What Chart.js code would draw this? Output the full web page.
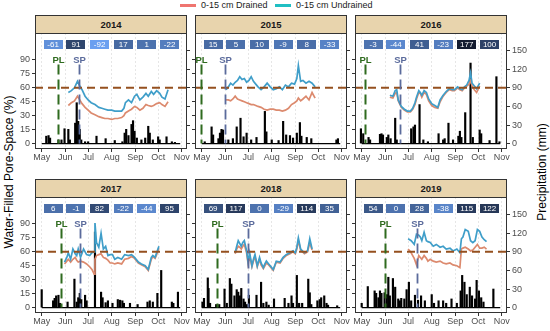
<!DOCTYPE html>
<html>
<head>
<meta charset="utf-8">
<script src="https://cdn.jsdelivr.net/npm/chart.js@4.4.1/dist/chart.umd.min.js"></script>
<style>
  body { margin: 0; width: 550px; height: 331px; position: relative; overflow: hidden; background: #fff;
         font-family: "Liberation Sans", Arial, sans-serif; }
  canvas { position: absolute; }
  .strip { position: absolute; box-sizing: border-box; height: 19px; width: 152px; background: #e8d4ad;
           border: 1px solid #333; text-align: center; font-weight: bold; font-size: 9.5px; line-height: 17px; color: #1a1a1a; }
  .key { position: absolute; top: 4px; width: 16px; height: 2.5px; }
  .ltxt { position: absolute; top: 0; font-size: 9px; line-height: 11px; color: #1a1a1a; }
  .ytitle { position: absolute; font-size: 12px; color: #000; white-space: nowrap;
            transform: translate(-50%, -50%) rotate(-90deg); }
</style>
</head>
<body>
<div class="key" style="left:180px;background:#ef7570"></div>
<div class="ltxt" style="left:201px">0-15 cm Drained</div>
<div class="key" style="left:275px;background:#20bfc3"></div>
<div class="ltxt" style="left:296px">0-15 cm Undrained</div>
<div class="ytitle" style="left:9px;top:172px">Water-Filled Pore-Space (%)</div>
<div class="ytitle" style="left:542px;top:172px">Precipitation (mm)</div>

<script>
// ---- data ----
const years = ['2014', '2015', '2016', '2017', '2018', '2019'];
const monthDays = [121, 152, 182, 213, 244, 274, 305];
const monthLabels = ['May', 'Jun', 'Jul', 'Aug', 'Sep', 'Oct', 'Nov'];
const wfpsTicks = [0, 15, 30, 45, 60, 75, 90];
const rainTicks = [0, 30, 60, 90, 120, 150];
const threshold = 60;
const seasonStart = 121, seasonEnd = 303;

// monthly difference boxes (placed mid-month)
const boxDays = [136, 166, 197, 228, 259, 289];
const diff2014 = [-61, 91, -92, 17, 1, -22];
const diff2015 = [15, 5, 10, -9, 8, -33];
const diff2016 = [-3, -44, 41, -23, 177, 100];
const diff2017 = [6, -1, 82, -22, -44, 95];
const diff2018 = [69, 117, 0, -29, 114, 35];
const diff2019 = [54, 0, 28, -38, 115, 122];

// planting / side-dress dates (day of year)
const plDays = [142, 120, 125, 146, 141, 151];
const spDays = [170, 152, 171, 171, 182, 193];

const wfpsDays2014 = [156,160,164,168,171,174,178,182,186,191,196,200,204,208,213,217,221,226,229,231,235,239,243,246,250,254,258,261,265,268,272,276,279,283,287];
const undrained2014 = [55,57,60,67,62,58,51,47,44,42,39,38,37,36,36,35,35,35,38,44,47,44,51,53,47,50,54,51,56,53,57,54,50,48,58];
const drained2014 = [41,44,46,51,47,43,39,36,33,31,29,28,27,27,26,27,27,28,30,33,35,37,40,39,36,38,42,41,40,41,43,44,42,40,45];

const wfpsDays2015 = [153,156,159,162,165,168,171,174,177,180,183,186,189,192,195,199,203,207,211,215,219,223,227,231,235,239,243,246,248,251,254,258,262,266,270];
const undrained2015 = [58,61,65,63,66,68,72,69,70,66,68,72,67,64,61,58,61,65,61,58,59,61,58,63,61,65,64,70,84,67,68,65,67,65,61];
const drained2015 = [47,47,46,48,51,48,47,46,45,44,43,42,42,41,40,39,37,36,37,37,36,36,35,36,38,42,44,46,49,46,48,51,47,55,49];

const wfpsDays2016 = [158,162,165,167,169,173,177,181,185,188,191,193,196,198,200,203,206,209,213,217,221,224,228,232,236,240,243,247,250,253,256,259,262,264,266,269,272,276];
const undrained2016 = [52,51,57,58,47,40,37,35,35,38,44,50,57,55,52,57,55,48,43,41,39,47,52,56,59,58,58,61,59,58,61,63,68,76,65,62,59,65];
const drained2016 = [50,49,54,55,46,39,36,34,34,37,42,48,55,54,50,55,53,46,41,39,38,45,51,55,58,57,57,60,58,57,60,62,64,68,62,58,55,62];

const wfpsDays2017 = [151,154,156,159,162,165,167,169,172,176,180,184,187,190,191,193,196,199,202,205,208,211,214,217,221,226,230,235,239,243,248,252,257,261,265,267,270,272,275];
const undrained2017 = [49,54,59,52,63,58,56,63,54,63,57,56,59,60,91,70,65,80,63,66,56,57,57,52,54,52,57,56,57,54,49,47,45,41,54,56,54,59,66];
const drained2017 = [47,50,52,49,52,54,51,49,50,49,47,44,41,36,52,56,57,58,54,53,51,48,48,47,48,47,52,53,55,53,48,46,44,40,52,55,53,57,64];

const wfpsDays2018 = [165,167,169,171,173,175,177,180,182,184,187,189,191,194,197,199,202,204,206,209,211,215,219,224,228,232,237,241,244,246,248,251,256,260,263,266];
const undrained2018 = [59,66,72,69,66,70,72,61,49,59,45,52,57,45,54,48,43,47,50,47,45,41,50,49,54,57,59,61,59,65,75,63,59,61,74,63];
const drained2018 = [58,63,66,65,63,66,68,59,47,56,44,50,55,44,52,46,42,45,48,46,44,40,49,48,53,56,58,60,58,63,72,62,58,60,70,62];

const wfpsDays2019 = [182,184,186,188,190,193,196,198,200,203,206,208,211,215,219,224,228,232,237,241,246,250,252,254,257,261,264,267,270,273,276,279,282,285];
const undrained2019 = [74,73,72,70,68,79,78,76,72,81,72,71,70,66,68,65,66,63,64,61,63,59,74,76,84,82,72,70,72,84,82,76,73,71];
const drained2019 = [63,61,59,56,53,46,56,54,52,56,53,50,52,50,49,50,48,47,48,46,45,43,63,64,65,63,61,62,65,68,64,64,65,63];

const rainDays2014 = [127,130,132,143,147,151,156,158,165,167,169,171,173,178,182,193,205,217,227,230,232,235,239,241,243,246,252,257,261,263,267,274,276,285,292,296];
const rainMm2014 = [12,13,9,6,6,24,23,6,33,66,36,23,6,3,3,12,8,5,3,17,23,13,31,37,20,9,6,9,28,17,6,11,6,11,3,2];

const rainDays2015 = [125,134,136,143,145,147,149,156,162,167,172,176,180,186,193,204,206,213,222,228,232,237,241,246,250,252,259,265,298,300];
const rainMm2015 = [3,27,14,8,17,23,22,6,8,27,41,11,17,6,10,52,19,6,5,36,14,13,9,17,34,12,10,8,6,8];

const rainDays2016 = [120,123,130,132,145,147,149,154,156,159,165,167,186,189,191,197,202,208,222,228,230,235,241,248,250,252,257,264,267,276,278,289,298,302];
const rainMm2016 = [24,16,10,6,15,16,14,10,14,8,41,6,24,27,30,63,6,3,16,6,8,33,6,12,20,10,50,130,10,22,16,5,108,3];

const rainDays2017 = [121,136,138,140,143,145,155,164,167,169,171,173,178,180,191,199,201,205,208,214,221,224,227,229,237,247,260,263,267,273,278,292,294,300];
const rainMm2017 = [29,11,15,19,20,7,9,46,9,16,23,13,20,11,122,25,16,8,11,7,13,12,11,7,7,5,9,11,9,23,60,9,7,25];

const rainDays2018 = [122,124,129,130,132,140,144,151,154,158,160,164,167,169,171,173,176,178,180,183,193,199,202,206,209,216,230,235,239,241,246,249,253,261,263,265,273,276,278,282,285,287,299];
const rainMm2018 = [9,15,48,31,7,5,5,30,7,47,38,19,29,25,19,31,14,9,5,20,20,41,7,9,4,14,15,7,19,7,52,7,7,46,24,5,11,13,16,19,7,4,3];

const rainDays2019 = [121,129,138,140,143,145,147,151,154,156,158,162,165,169,171,173,177,180,183,186,191,195,199,204,213,216,222,228,232,239,246,251,253,256,259,263,266,270,272,275,278,281,294];
const rainMm2019 = [7,34,27,23,16,27,23,24,21,49,19,47,33,14,11,15,14,29,41,11,20,12,19,11,21,7,11,11,7,14,7,27,52,41,21,33,19,14,44,27,16,9,30];

const diffs = [diff2014, diff2015, diff2016, diff2017, diff2018, diff2019];
const wfpsDays = [wfpsDays2014, wfpsDays2015, wfpsDays2016, wfpsDays2017, wfpsDays2018, wfpsDays2019];
const undrained = [undrained2014, undrained2015, undrained2016, undrained2017, undrained2018, undrained2019];
const drained = [drained2014, drained2015, drained2016, drained2017, drained2018, drained2019];
const rainDays = [rainDays2014, rainDays2015, rainDays2016, rainDays2017, rainDays2018, rainDays2019];
const rainMm = [rainMm2014, rainMm2015, rainMm2016, rainMm2017, rainMm2018, rainMm2019];

// ---- layout / style ----
const FONT = '"Liberation Sans", Arial, sans-serif';
const undrainedColor = '#3f9ec9';
const drainedColor = '#dc8a6e';
const xMin = 112.2, xMax = 311.9;
const yMin = -5.8, yMax = 119;
const rainFactor = 1.5;

const cols = [
  { plotL: 35, plotR: 187, canL: 0, canR: 195 },
  { plotL: 195, plotR: 347, canL: 188, canR: 355 },
  { plotL: 355, plotR: 507, canL: 348, canR: 550 }
];
const rows = [
  { stripT: 15, plotT: 33, plotB: 149, bottomH: 16 },
  { stripT: 179, plotT: 197, plotB: 313, bottomH: 18 }
];

const allDiffs = diffs.flat();
const dMin = Math.min(...allDiffs), dMax = Math.max(...allDiffs);
const lowColor = [106, 159, 240], highColor = [20, 28, 48];
function boxColor(v) {
  const t = (v - dMin) / (dMax - dMin);
  const c = lowColor.map((l, k) => Math.round(l + (highColor[k] - l) * t));
  return 'rgb(' + c.join(',') + ')';
}

function zip(xs, ys) {
  return xs.map((x, k) => ({ x: x, y: ys[k] }));
}

function noPad(s) {
  s.paddingLeft = 0; s.paddingRight = 0; s.paddingTop = 0; s.paddingBottom = 0;
}

const panelDecor = {
  id: 'panelDecor',
  afterDatasetsDraw(chart, args, opts) {
    const { ctx, chartArea: a } = chart;
    const x = chart.scales.x, y = chart.scales.y;
    ctx.save();
    ctx.beginPath();
    ctx.rect(a.left, a.top, a.right - a.left, a.bottom - a.top);
    ctx.clip();

    // 60 % threshold
    const y60 = y.getPixelForValue(threshold);
    ctx.setLineDash([8, 5]);
    ctx.strokeStyle = '#95501f';
    ctx.lineWidth = 2;
    ctx.beginPath();
    ctx.moveTo(a.left, y60);
    ctx.lineTo(a.right, y60);
    ctx.stroke();

    // PL and SP markers
    [[opts.pl, 'PL', '#2f6b1f', 2], [opts.sp, 'SP', '#5b6b9c', 1.8]].forEach(m => {
      const px = Math.round(x.getPixelForValue(m[0])) + 0.5;
      ctx.setLineDash([10, 5]);
      ctx.strokeStyle = m[2];
      ctx.lineWidth = m[3];
      ctx.beginPath();
      ctx.moveTo(px, y.getPixelForValue(85));
      ctx.lineTo(px, y.getPixelForValue(0));
      ctx.stroke();
      ctx.setLineDash([]);
      ctx.fillStyle = m[2];
      ctx.font = 'bold 9.5px ' + FONT;
      ctx.textAlign = 'center';
      ctx.textBaseline = 'middle';
      ctx.fillText(m[1], px, y.getPixelForValue(89.5));
    });

    // monthly difference boxes
    ctx.font = '8px ' + FONT;
    ctx.textAlign = 'center';
    ctx.textBaseline = 'middle';
    opts.diffs.forEach((v, k) => {
      const cx = x.getPixelForValue(boxDays[k]);
      const cy = y.getPixelForValue(106.5);
      ctx.fillStyle = boxColor(v);
      ctx.fillRect(Math.round(cx - 9.5), Math.round(cy - 4.5), 19, 9);
      ctx.fillStyle = '#fff';
      ctx.fillText(String(v), cx, cy + 0.5);
    });
    ctx.restore();

    // panel border
    ctx.save();
    ctx.strokeStyle = '#333';
    ctx.lineWidth = 1;
    ctx.strokeRect(a.left + 0.5, a.top + 0.5, a.right - a.left - 1, a.bottom - a.top - 1);
    ctx.restore();
  }
};

years.forEach((year, i) => {
  const col = cols[i % 3];
  const row = rows[Math.floor(i / 3)];
  const w = col.canR - col.canL;
  const h = row.plotB - row.plotT + row.bottomH;

  const canvas = document.createElement('canvas');
  canvas.width = w;
  canvas.height = h;
  canvas.style.left = col.canL + 'px';
  canvas.style.top = row.plotT + 'px';
  canvas.style.width = w + 'px';
  canvas.style.height = h + 'px';
  document.body.appendChild(canvas);

  const strip = document.createElement('div');
  strip.className = 'strip';
  strip.style.left = col.plotL + 'px';
  strip.style.top = row.stripT + 'px';
  strip.textContent = year;
  document.body.appendChild(strip);

  const tickGrid = { display: true, drawOnChartArea: false, drawTicks: true, tickLength: 3, tickColor: '#333', tickWidth: 1 };

  new Chart(canvas, {
    type: 'bar',
    data: {
      datasets: [
        { type: 'line', label: '0-15 cm Undrained', data: zip(wfpsDays[i], undrained[i]), borderColor: undrainedColor,
          borderWidth: 1.7, pointRadius: 0, yAxisID: 'y', order: 0 },
        { type: 'line', label: '0-15 cm Drained', data: zip(wfpsDays[i], drained[i]), borderColor: drainedColor,
          borderWidth: 1.7, pointRadius: 0, yAxisID: 'y', order: 1 },
        { type: 'line', label: 'base', data: [{ x: seasonStart, y: 0 }, { x: seasonEnd, y: 0 }], borderColor: '#000',
          borderWidth: 1.2, pointRadius: 0, yAxisID: 'y2', order: 2 },
        { type: 'bar', label: 'Precipitation', data: zip(rainDays[i], rainMm[i]), backgroundColor: '#000',
          barThickness: 1.5, yAxisID: 'y2', order: 3 }
      ]
    },
    options: {
      responsive: false,
      animation: false,
      devicePixelRatio: 1,
      layout: { padding: 0 },
      plugins: {
        legend: { display: false },
        tooltip: { enabled: false },
        panelDecor: { pl: plDays[i], sp: spDays[i], diffs: diffs[i] }
      },
      scales: {
        x: {
          type: 'linear', min: xMin, max: xMax, offset: false,
          afterBuildTicks: s => { s.ticks = monthDays.map(v => ({ value: v })); },
          ticks: { callback: v => monthLabels[monthDays.indexOf(v)], font: { size: 9, family: FONT }, color: '#4d4d4d',
                   padding: 0.5, maxRotation: 0, autoSkip: false },
          grid: { display: true, offset: false, drawOnChartArea: true, color: '#e6e6e6', lineWidth: 1,
                  drawTicks: true, tickLength: 3, tickColor: '#333', tickBorderDash: [] },
          border: { display: false, dash: [2, 2] },
          afterFit: s => { s.height = row.bottomH; noPad(s); }
        },
        y: {
          position: 'left', min: yMin, max: yMax,
          afterBuildTicks: s => { s.ticks = wfpsTicks.map(v => ({ value: v })); },
          ticks: { display: i % 3 === 0, font: { size: 9, family: FONT }, color: '#4d4d4d', padding: 2 },
          grid: tickGrid,
          border: { display: false },
          afterFit: s => { s.width = col.plotL - col.canL; noPad(s); }
        },
        y2: {
          position: 'right', min: yMin * rainFactor, max: yMax * rainFactor,
          afterBuildTicks: s => { s.ticks = rainTicks.map(v => ({ value: v })); },
          ticks: { display: i % 3 === 2, font: { size: 9, family: FONT }, color: '#4d4d4d', padding: 2 },
          grid: tickGrid,
          border: { display: false },
          afterFit: s => { s.width = col.canR - col.plotR; noPad(s); }
        }
      }
    },
    plugins: [panelDecor]
  });
});
</script>
</body>
</html>
